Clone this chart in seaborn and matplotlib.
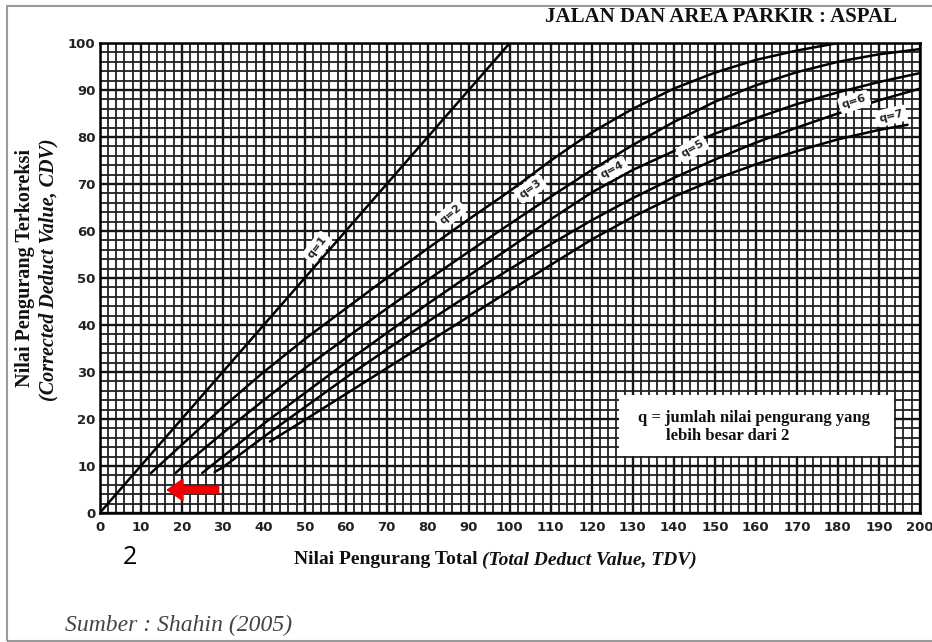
import matplotlib
matplotlib.use("Agg")
import matplotlib.pyplot as plt
import seaborn as sns
import pandas as pd
from matplotlib.patches import Rectangle

sns.set_theme(style="white")
plt.rcParams['font.family'] = ['Liberation Serif', 'DejaVu Serif']

# curves (TDV -> CDV)
tdv_q1 = [0, 100]
cdv_q1 = [0, 100]
tdv_q2 = [12.5, 20, 30, 40, 50, 60, 70, 80, 90, 100, 110, 120, 130, 140, 150, 160, 170, 180]
cdv_q2 = [8.5, 14.5, 22.5, 30, 37, 43.5, 50, 56.3, 62.5, 68.5, 75, 81, 86, 90.3, 93.7, 96.4, 98.4, 100]
tdv_q3 = [18.5, 20, 30, 40, 50, 60, 70, 80, 90, 100, 110, 120, 130, 140, 150, 160, 170, 180, 190, 200]
cdv_q3 = [8.5, 9.7, 17, 24, 30.8, 37.2, 43.5, 49.6, 55.6, 61.5, 67.3, 73, 78.3, 83.2, 87.5, 91, 93.8, 96, 97.6, 98.7]
tdv_q4 = [25, 30, 40, 50, 60, 70, 80, 90, 100, 110, 120, 130, 140, 150, 160, 170, 180, 190, 200]
cdv_q4 = [8.5, 12, 19, 25.5, 32, 38.3, 44.5, 50.5, 56.4, 62.5, 68.2, 73, 77, 80.7, 84, 87, 89.5, 91.7, 93.6]
tdv_q5 = [28, 30, 40, 50, 60, 70, 80, 90, 100, 110, 120, 130, 140, 150, 160, 170, 180, 190, 200]
cdv_q5 = [8.7, 9.7, 16.2, 22.5, 28.8, 34.8, 40.7, 46.4, 51.9, 57.2, 62.3, 67, 71.3, 75.2, 78.8, 82, 85, 87.8, 90.3]
tdv_q7 = [41.5, 50, 60, 70, 80, 90, 100, 110, 120, 130, 140, 150, 160, 170, 180, 190, 197]
cdv_q7 = [15.2, 19.8, 25.3, 30.8, 36.3, 41.8, 47.3, 52.8, 58.2, 63, 67.3, 71, 74.2, 77, 79.5, 81.5, 82.6]

curves = {'q=1': (tdv_q1, cdv_q1), 'q=2': (tdv_q2, cdv_q2), 'q=3': (tdv_q3, cdv_q3),
          'q=4': (tdv_q4, cdv_q4), 'q=5': (tdv_q5, cdv_q5), 'q=7': (tdv_q7, cdv_q7)}

# curve labels: text, TDV, CDV, angle
label_text = ['q=1', 'q=2', 'q=3', 'q=4', 'q=5', 'q=6', 'q=7']
label_x = [53, 85.5, 105, 125, 144.5, 184, 193]
label_y = [56.5, 63.5, 69, 73, 77.5, 87.5, 84.5]
label_rot = [52, 40, 36, 28, 30, 18, 14]

rows = []
for name, (xs, ys) in curves.items():
    for xv, yv in zip(xs, ys):
        rows.append({'TDV': xv, 'CDV': yv, 'q': name})
df = pd.DataFrame(rows)

fig = plt.figure(figsize=(9.32, 6.42), dpi=100)
ax = fig.add_axes([0.107, 0.201, 0.880, 0.732])

sns.lineplot(data=df, x='TDV', y='CDV', hue='q', palette=['black'] * len(curves),
             legend=False, linewidth=1.8, estimator=None, ax=ax, zorder=3)

ax.set_xlim(0, 200)
ax.set_ylim(0, 100)
ax.set_xticks(range(0, 201, 10))
ax.set_xticks(range(0, 201, 2), minor=True)
ax.set_yticks(range(0, 101, 10))
ax.set_yticks(range(0, 101, 2), minor=True)
ax.grid(which='major', color='#151515', linewidth=1.7)
ax.grid(which='minor', color='#202020', linewidth=1.3)
ax.set_axisbelow(True)
for s in ax.spines.values():
    s.set_color('black')
    s.set_linewidth(1.8)
ax.tick_params(which='both', length=0, pad=3)
ax.tick_params(axis='x', pad=6)
for t in ax.get_xticklabels() + ax.get_yticklabels():
    t.set_family('DejaVu Sans')
    t.set_fontweight('bold')
    t.set_fontsize(9.5)
    t.set_color('#222222')
ax.set_xlabel('')
ax.set_ylabel('')

for txt, lx, ly, rot in zip(label_text, label_x, label_y, label_rot):
    ax.text(lx, ly, txt, rotation=rot, ha='center', va='center',
            fontsize=8, fontweight='bold', family='DejaVu Sans', zorder=5,
            bbox=dict(boxstyle='round,pad=0.3', fc='white', ec='none'))

# note box
ax.add_patch(Rectangle((126.6, 12.1), 67.1, 13, facecolor='white', edgecolor='none', zorder=4))
ax.text(131.2, 20.2, 'q = jumlah nilai pengurang yang', fontsize=12, fontweight='bold',
        va='center', ha='left', zorder=5, color='#111111')
ax.text(138, 16.4, 'lebih besar dari 2', fontsize=12, fontweight='bold',
        va='center', ha='left', zorder=5, color='#111111')

# red arrow
ax.arrow(29, 4.9, -12.5, 0, width=1.5, head_width=4.6, head_length=3.8,
         length_includes_head=True, color='#ee0000', zorder=6)

fig.text(897 / 932, 1 - 17 / 642, 'JALAN DAN AREA PARKIR : ASPAL', ha='right', va='center',
         fontsize=15, fontweight='bold', color='#111111')
fig.text(25 / 932, 1 - 268 / 642, 'Nilai Pengurang Terkoreksi', rotation=90, ha='center',
         va='center', fontsize=14.5, fontweight='bold', color='#111111')
fig.text(48 / 932, 1 - 270 / 642, '(Corrected Deduct Value, CDV)', rotation=90, ha='center',
         va='center', fontsize=14.5, fontweight='bold', style='italic', color='#111111')
fig.text(478 / 932, 1 - 560 / 642, 'Nilai Pengurang Total', ha='right', va='center',
         fontsize=14, fontweight='bold', color='#111111')
fig.text(482 / 932, 1 - 560 / 642, '(Total Deduct Value, TDV)', ha='left', va='center',
         fontsize=14, fontweight='bold', style='italic', color='#111111')
fig.text(130 / 932, 1 - 557 / 642, '2', ha='center', va='center', fontsize=18,
         family='Open Sans', color='black')
fig.text(65 / 932, 1 - 625 / 642, 'Sumber : Shahin (2005)', ha='left', va='center',
         fontsize=17, style='italic', color='#444444')

fig.add_artist(Rectangle((7 / 932, 1 / 642), 1.0, 1 - 7 / 642, transform=fig.transFigure,
                         fill=False, edgecolor='#9a9a9a', linewidth=1.5))

fig.savefig('out.png', dpi=100)
